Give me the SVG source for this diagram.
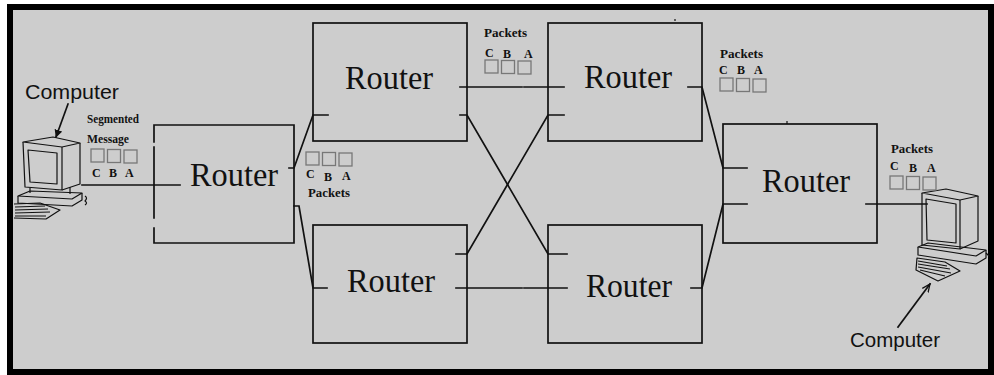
<svg xmlns="http://www.w3.org/2000/svg" width="994" height="375" viewBox="0 0 994 375">
  <style>
    .ln { stroke: #111; stroke-width: 1.7; fill: none; stroke-linecap: square; }
    .thin { stroke: #111; stroke-width: 1.2; fill: none; stroke-linejoin: round; }
    .rt { font-family: "Liberation Serif", "Times New Roman", serif; font-size: 34px; fill: #111; }
    .pk { font-family: "Liberation Serif", "Times New Roman", serif; font-size: 13px; font-weight: bold; fill: #111; }
    .sm { font-family: "Liberation Serif", "Times New Roman", serif; font-size: 12px; font-weight: bold; fill: #111; }
    .pc { font-family: "Liberation Sans", Arial, sans-serif; font-size: 21px; fill: #111; }
    .sq { fill: none; stroke: #777; stroke-width: 1.3; }
  </style>
  <defs>
    <marker id="head" viewBox="0 0 10 10" refX="9" refY="5" markerWidth="8" markerHeight="8" orient="auto" markerUnits="userSpaceOnUse">
      <path d="M0,0 L10,5 L0,10 z" fill="#111"/>
    </marker>
    <marker id="open" viewBox="0 0 10 10" refX="9" refY="5" markerWidth="9" markerHeight="9" orient="auto" markerUnits="userSpaceOnUse">
      <path d="M0,1 L9,5 L0,9" fill="none" stroke="#111" stroke-width="1.4"/>
    </marker>
    <g id="packet3">
      <rect class="sq" x="0" y="0" width="13" height="13"/>
      <rect class="sq" x="16.5" y="0.5" width="13" height="13"/>
      <rect class="sq" x="33" y="1" width="13" height="13"/>
    </g>
  </defs>

  <!-- frame -->
  <rect x="7" y="4" width="987" height="371" fill="#000"/>
  <rect x="13" y="10" width="975" height="359" fill="#cdcdcd"/>

  <!-- routers -->
  <g id="router-in">
    <path class="ln" d="M154,142 V125 H294 V243 H154 V228 M154,147 V218"/>
    <text class="rt" x="190" y="186" textLength="88" lengthAdjust="spacingAndGlyphs">Router</text>
  </g>
  <g id="router-top-left">
    <rect class="ln" x="313" y="23" width="154" height="118"/>
    <text class="rt" x="345" y="89" textLength="88" lengthAdjust="spacingAndGlyphs">Router</text>
  </g>
  <g id="router-top-right">
    <rect class="ln" x="548" y="23" width="154" height="118"/>
    <path class="thin" d="M675,19 V21"/>
    <text class="rt" x="584" y="88" textLength="88" lengthAdjust="spacingAndGlyphs">Router</text>
  </g>
  <g id="router-bottom-left">
    <rect class="ln" x="313" y="225" width="154" height="118"/>
    <text class="rt" x="347" y="292" textLength="88" lengthAdjust="spacingAndGlyphs">Router</text>
  </g>
  <g id="router-bottom-right">
    <rect class="ln" x="548" y="225" width="154" height="118"/>
    <text class="rt" x="586" y="297" textLength="86" lengthAdjust="spacingAndGlyphs">Router</text>
  </g>
  <g id="router-out">
    <rect class="ln" x="723" y="124" width="154" height="119"/>
    <path class="thin" d="M787,124 V121"/>
    <text class="rt" x="762" y="192" textLength="88" lengthAdjust="spacingAndGlyphs">Router</text>
  </g>

  <!-- links between hosts and routers -->
  <g id="connectors">
    <path class="ln" d="M82,185 H180"/>
    <path class="ln" d="M289,168 H294 L313,115 H328"/>
    <path class="ln" d="M294,206 H299 L313,288 H327"/>
    <path class="ln" d="M460,87 H522 M524,87 H564"/>
    <path class="ln" d="M460,115 H467 L548,254 H567"/>
    <path class="ln" d="M456,254 H467 L548,115 H564"/>
    <path class="ln" d="M456,288 H522 M524,288 H567"/>
    <path class="ln" d="M688,87 H702 L723,168 H747"/>
    <path class="ln" d="M691,288 H702 L723,204 H747"/>
    <path class="ln" d="M866,204 H927"/>
  </g>

  <!-- sending computer -->
  <g id="computer-left">
    <path class="thin" d="M23,142 L53,137 L80,143 L62,147 Z"/>
    <path class="thin" d="M23,142 L25,187 L62,190 L62,147"/>
    <path class="thin" d="M80,143 L80,184 L62,190"/>
    <path class="thin" d="M28,150 L57,153 L57,184 L30,182 Z"/>
    <path class="thin" d="M30,188 L30,193 M70,187 L70,194"/>
    <path class="thin" d="M18,196 L30,191 L82,193 L72,199 Z"/>
    <path class="thin" d="M18,196 L18,203 L72,206 L82,200 L82,193"/>
    <path class="thin" d="M14,204 L40,203 L60,210 L46,219 L14,218"/>
    <path class="thin" d="M15,207 L45,206 M15,210 L48,209 M15,213 L50,212 M15,216 L46,216"/>
    <path class="thin" d="M85,196 Q88,198 85,201 Q88,203 85,205"/>
  </g>
  <g id="label-computer-left">
    <text class="pc" x="25" y="99" textLength="94" lengthAdjust="spacingAndGlyphs">Computer</text>
    <path class="ln" d="M68,104 L56,137" marker-end="url(#head)"/>
  </g>

  <!-- receiving computer -->
  <g id="computer-right">
    <path class="thin" d="M922,193 L946,189 L978,196 L960,200 Z"/>
    <path class="thin" d="M922,193 L922,245 L960,249 L960,200"/>
    <path class="thin" d="M978,196 L978,241 L960,249"/>
    <path class="thin" d="M926,199 L956,204 L956,243 L927,240 Z"/>
    <path class="thin" d="M918,247 L928,243 L986,250 L976,256 Z"/>
    <path class="thin" d="M918,247 L918,255 L976,264 L986,258 L986,250"/>
    <path class="thin" d="M917,258 L945,262 L960,271 L938,281 L916,270 Z"/>
    <path class="thin" d="M918,261 L947,266 M918,264 L950,269 M918,267 L951,273 M920,270 L945,276"/>
    <path class="thin" d="M986,253 L989,256"/>
  </g>
  <g id="label-computer-right">
    <text class="pc" x="850" y="347" textLength="90" lengthAdjust="spacingAndGlyphs">Computer</text>
    <path class="ln" d="M898,327 L930,284" marker-end="url(#open)"/>
  </g>

  <!-- packet groups -->
  <g id="packets-segmented">
    <text class="sm" x="87" y="123" textLength="52" lengthAdjust="spacingAndGlyphs">Segmented</text>
    <text class="sm" x="87" y="143" textLength="42" lengthAdjust="spacingAndGlyphs">Message</text>
    <use href="#packet3" x="91" y="149"/>
    <text class="sm" x="92" y="177">C</text>
    <text class="sm" x="109" y="177">B</text>
    <text class="sm" x="125" y="177">A</text>
  </g>
  <g id="packets-r1">
    <use href="#packet3" x="306" y="152"/>
    <text class="sm" x="306" y="178">C</text>
    <text class="sm" x="324" y="181">B</text>
    <text class="sm" x="342" y="180">A</text>
    <text class="pk" x="308" y="197" textLength="42" lengthAdjust="spacingAndGlyphs">Packets</text>
  </g>
  <g id="packets-top">
    <text class="pk" x="484" y="37" textLength="43" lengthAdjust="spacingAndGlyphs">Packets</text>
    <text class="sm" x="485" y="57">C</text>
    <text class="sm" x="503" y="58">B</text>
    <text class="sm" x="524" y="58">A</text>
    <use href="#packet3" x="485" y="60"/>
  </g>
  <g id="packets-top-right">
    <text class="pk" x="720" y="58" textLength="43" lengthAdjust="spacingAndGlyphs">Packets</text>
    <text class="sm" x="719" y="74">C</text>
    <text class="sm" x="737" y="74">B</text>
    <text class="sm" x="754" y="74">A</text>
    <use href="#packet3" x="720" y="78"/>
  </g>
  <g id="packets-out">
    <text class="pk" x="891" y="153" textLength="42" lengthAdjust="spacingAndGlyphs">Packets</text>
    <text class="sm" x="890" y="170">C</text>
    <text class="sm" x="909" y="172">B</text>
    <text class="sm" x="927" y="172">A</text>
    <use href="#packet3" x="890" y="176"/>
  </g>
</svg>
